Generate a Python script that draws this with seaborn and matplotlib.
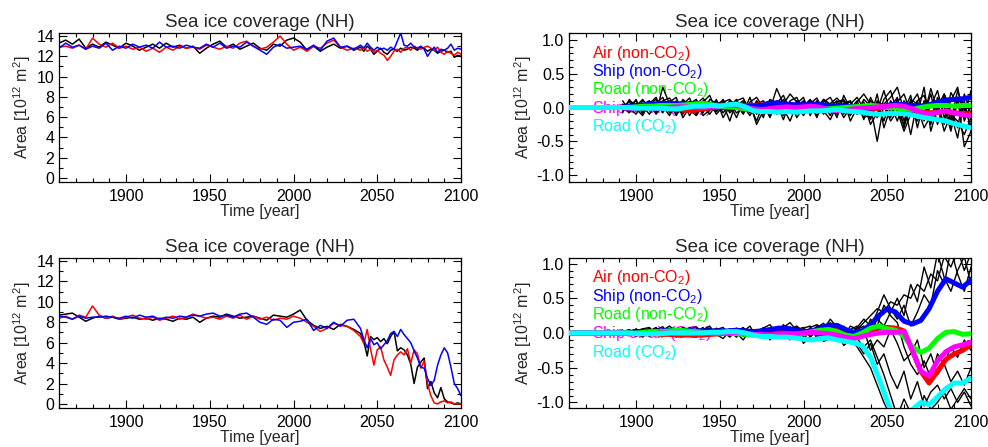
import numpy as np
import pandas as pd
import matplotlib
matplotlib.use("Agg")
import matplotlib.pyplot as plt
from matplotlib.ticker import MultipleLocator, FormatStrFormatter
import seaborn as sns

# ---------------- data ----------------
years_left = np.concatenate([np.arange(1860, 2040, 4), np.arange(2040, 2101, 2)])
years_mean = np.arange(1860, 2101, 5)
years_ens = np.arange(1892, 2101, 4)

# top-left: absolute area, three runs
tl_black = [13.3, 13.6, 13.2, 13.7, 12.8, 13.2, 12.9, 13.4, 13.1, 12.8, 13.3, 13.0, 12.6, 12.9, 13.2,
            12.8, 13.3, 12.9, 13.1, 12.8, 13.0, 12.3, 12.8, 13.2, 13.5, 12.9, 13.2, 12.7, 13.0, 13.3,
            12.8, 12.6, 13.2, 13.0, 13.6, 13.8, 13.4, 12.6, 13.0, 12.5, 12.9, 13.2, 12.8, 13.0, 12.6,
            12.9, 12.5, 13.0, 12.7, 12.2, 12.5, 12.8, 12.4, 12.2, 12.6, 12.7, 12.5, 12.8, 12.6, 12.7,
            12.9, 12.8, 12.6, 12.9, 12.8, 12.5, 12.7, 12.6, 12.3, 12.5, 12.6, 12.4, 12.5, 11.9, 12.1, 12.0]
tl_red = [12.9, 13.0, 12.8, 13.1, 12.7, 13.8, 13.2, 12.9, 13.3, 12.8, 13.0, 12.7, 12.9, 12.5, 12.8,
          12.4, 12.9, 12.6, 13.0, 12.8, 12.9, 12.7, 13.1, 12.9, 12.7, 13.0, 12.8, 13.3, 13.5, 13.0,
          12.7, 12.9, 13.4, 14.0, 13.2, 12.6, 12.9, 12.5, 13.0, 12.8, 13.3, 13.6, 12.9, 12.6, 12.8,
          12.6, 12.9, 12.5, 12.7, 12.4, 12.6, 12.3, 12.1, 11.6, 12.0, 12.5, 12.7, 12.4, 12.8, 12.9,
          12.6, 13.0, 12.8, 12.7, 12.9, 13.0, 12.8, 12.6, 12.9, 12.4, 12.2, 12.5, 12.3, 12.1, 12.4, 12.2]
tl_blue = [12.8, 13.3, 12.9, 13.1, 12.7, 13.0, 12.8, 13.3, 12.6, 13.0, 12.8, 13.2, 12.9, 13.1, 12.8,
           13.4, 12.9, 13.0, 12.8, 13.1, 12.9, 12.8, 13.2, 12.9, 13.3, 12.8, 13.0, 12.9, 13.4, 13.0,
           12.6, 12.2, 12.9, 13.2, 12.8, 12.9, 13.0, 12.7, 13.1, 12.6, 13.5, 13.8, 12.9, 13.0, 12.7,
           13.1, 12.8, 13.3, 12.9, 12.6, 12.9, 12.7, 12.8, 12.6, 12.9, 12.7, 13.5, 14.3, 13.1, 13.0,
           13.3, 12.9, 12.8, 13.0, 12.7, 12.0, 12.5, 12.9, 12.4, 12.7, 12.6, 12.8, 13.2, 12.6, 12.8, 12.7]

# bottom-left: absolute area, three runs
bl_black = [8.7, 8.8, 8.9, 8.5, 8.1, 8.4, 8.6, 8.4, 8.5, 8.3, 8.4, 8.5, 8.3, 8.4, 8.2,
            8.4, 8.3, 8.1, 8.4, 8.3, 8.5, 8.0, 8.4, 8.6, 8.5, 8.8, 8.6, 8.4, 8.5, 8.6,
            8.4, 8.2, 8.7, 8.6, 8.5, 8.8, 9.2, 8.2, 7.7, 7.4, 7.6, 7.3, 7.8, 7.6, 7.3,
            6.9, 6.1, 4.7, 6.6, 6.3, 6.5, 6.1, 6.4, 5.9, 6.6, 7.1, 5.2, 5.5, 5.3, 4.8,
            3.9, 2.0, 3.6, 4.1, 4.5, 1.5, 2.2, 1.1, 0.6, 1.6, 0.5, 0.2, 0.1, 0.0, 0.1, 0.0]
bl_red = [8.4, 8.6, 8.3, 8.7, 8.5, 9.6, 8.7, 8.4, 8.6, 8.3, 8.5, 8.7, 8.4, 8.3, 8.5,
          8.2, 8.4, 8.6, 8.3, 8.5, 8.8, 8.6, 8.4, 8.5, 8.3, 8.6, 8.4, 8.7, 8.3, 8.6,
          8.3, 8.5, 8.2, 8.4, 8.3, 8.6, 8.4, 8.0, 7.6, 7.1, 7.4, 7.9, 7.7, 7.6, 7.2,
          6.6, 5.9, 7.3, 5.4, 3.8, 5.3, 5.6, 4.3, 3.6, 2.8, 4.3, 4.8, 5.1, 4.8, 5.4,
          4.0, 5.3, 4.9, 3.5, 4.2, 2.0, 0.8, 0.1, 0.0, 0.2, 0.3, 0.1, 0.2, 0.0, 0.0, 0.0]
bl_blue = [8.6, 8.5, 8.3, 8.6, 8.4, 8.5, 8.5, 8.6, 8.5, 8.4, 8.6, 8.4, 8.7, 8.5, 8.6,
           8.3, 8.5, 8.4, 8.6, 8.5, 8.7, 8.6, 8.8, 8.9, 8.6, 8.7, 8.5, 8.8, 8.9, 8.5,
           8.0, 7.8, 8.3, 8.2, 7.5, 8.0, 8.1, 8.3, 7.2, 7.7, 7.4, 8.0, 7.6, 8.2, 8.3,
           7.4, 6.3, 5.5, 6.4, 5.8, 6.0, 5.4, 5.8, 6.2, 6.9, 7.1, 6.6, 7.3, 6.8, 6.4,
           6.0, 5.2, 4.5, 3.6, 3.5, 2.5, 1.8, 2.3, 3.8, 4.8, 5.5, 5.0, 3.6, 2.0, 1.5, 0.8]

# top-right: anomalies, ensemble members (black)
tr_members = [
    [0.02, 0.08, -0.05, 0.10, 0.03, -0.08, 0.30, 0.05, -0.10, 0.12, 0.02, -0.06, 0.10, 0.04, -0.02, 0.12,
     -0.05, 0.08, 0.02, -0.12, 0.05, 0.10, -0.03, 0.28, 0.05, -0.08, 0.10, 0.02, 0.12, -0.05, 0.08, 0.15,
     -0.03, 0.06, 0.10, -0.08, 0.12, 0.02, -0.50, 0.05, 0.15, 0.30, -0.05, 0.18, -0.30, 0.10, 0.02, 0.25,
     -0.15, 0.10, 0.30, -0.20, 0.05],
    [-0.05, 0.03, 0.10, -0.08, 0.05, 0.12, -0.04, 0.08, 0.15, -0.10, 0.06, 0.12, -0.05, 0.02, 0.10, -0.08,
     0.05, -0.15, 0.08, 0.03, -0.20, 0.06, 0.10, -0.05, 0.12, 0.02, -0.10, 0.08, -0.04, 0.10, 0.03, -0.12,
     0.08, 0.12, -0.06, 0.04, -0.15, -0.10, 0.08, -0.20, 0.10, -0.05, -0.25, 0.12, 0.05, -0.10, 0.20, -0.25,
     0.08, -0.30, 0.15, -0.58, -0.35],
    [0.05, -0.06, 0.02, 0.12, -0.03, 0.06, 0.15, -0.08, 0.04, 0.08, -0.12, 0.05, 0.14, 0.00, -0.06, 0.08,
     0.12, -0.03, 0.05, -0.08, 0.10, -0.02, -0.12, 0.06, 0.18, -0.04, 0.03, -0.12, 0.06, 0.14, -0.07, 0.02,
     0.10, -0.10, 0.05, 0.15, -0.02, -0.18, 0.10, 0.02, -0.15, 0.08, 0.20, -0.08, 0.10, -0.20, 0.05, -0.10,
     0.20, -0.05, -0.30, 0.20, -0.10],
    [-0.02, 0.10, 0.04, -0.05, 0.08, -0.02, 0.10, 0.14, 0.00, -0.06, 0.09, 0.03, -0.08, 0.12, 0.06, -0.03,
     0.10, 0.05, -0.10, 0.08, 0.15, 0.00, 0.07, -0.08, 0.05, 0.20, 0.08, -0.03, 0.10, 0.05, -0.10, 0.06,
     0.14, 0.02, -0.12, 0.08, 0.20, 0.05, -0.15, 0.12, 0.25, -0.08, 0.05, -0.40, 0.10, 0.18, -0.15, 0.05,
     -0.25, 0.22, 0.05, -0.15, 0.25],
    [0.00, -0.08, 0.06, 0.02, -0.10, 0.04, 0.08, -0.06, 0.02, 0.10, -0.04, -0.12, 0.03, 0.08, -0.10, 0.02,
     0.06, -0.08, 0.00, 0.06, -0.25, -0.05, 0.04, -0.10, 0.02, 0.08, -0.15, 0.00, 0.05, -0.12, 0.02, -0.06,
     0.05, -0.15, 0.00, -0.10, 0.05, -0.25, -0.08, 0.03, -0.20, -0.05, -0.35, -0.10, 0.00, -0.30, -0.12, 0.05,
     -0.35, -0.10, -0.20, -0.40, -0.15],
    [0.03, 0.00, -0.10, 0.05, 0.10, -0.05, 0.02, -0.12, 0.06, 0.00, 0.08, -0.04, 0.02, -0.10, 0.05, 0.10,
     -0.08, 0.03, 0.10, -0.04, 0.02, -0.10, 0.08, 0.03, -0.12, 0.05, 0.02, 0.10, -0.08, 0.00, 0.12, -0.02,
     -0.10, 0.05, 0.08, -0.05, -0.08, 0.10, 0.00, -0.12, 0.05, -0.20, 0.10, -0.05, -0.20, 0.08, -0.25, 0.15,
     0.00, -0.35, 0.10, 0.05, -0.28],
    [0.10, -0.05, 0.12, -0.10, 0.06, 0.15, -0.08, 0.10, -0.12, 0.05, 0.14, -0.10, 0.08, 0.18, -0.06, 0.05,
     -0.20, 0.10, 0.14, -0.05, 0.08, -0.15, 0.12, 0.06, -0.18, 0.10, 0.15, -0.08, 0.06, -0.15, 0.12, 0.05,
     -0.15, 0.18, -0.02, 0.10, -0.18, 0.15, -0.05, 0.25, -0.10, 0.12, -0.30, 0.05, 0.20, -0.12, 0.28, -0.05,
     0.15, -0.20, 0.25, -0.05, 0.20],
    [-0.08, 0.12, -0.02, -0.12, 0.08, -0.10, 0.05, -0.06, 0.10, -0.15, 0.00, 0.10, -0.12, -0.04, 0.12, -0.15,
     0.02, 0.12, -0.08, 0.15, -0.10, 0.05, -0.15, 0.10, -0.02, -0.20, 0.06, 0.15, -0.12, 0.08, -0.05, -0.18,
     0.04, 0.10, -0.20, 0.00, 0.08, -0.15, 0.20, -0.30, 0.00, 0.15, -0.20, 0.10, -0.10, 0.30, -0.35, 0.00,
     0.20, -0.10, -0.45, 0.10, -0.35],
]

# top-right: smoothed means (1860..2100, 5-yr)
tr_air = [0, 0, 0, 0, 0, 0, 0.0, 0.0, 0.01, 0.0, 0.0, -0.01, -0.02, -0.03, -0.04, -0.04, -0.02, 0.0, 0.01,
          0.0, 0.02, 0.03, 0.03, 0.04, 0.05, 0.06, 0.04, 0.02, 0.01, 0.0, 0.0, -0.02, -0.04, -0.05, -0.04,
          -0.03, -0.02, -0.01, 0.01, 0.02, 0.0, -0.03, -0.06, -0.08, -0.07, -0.06, -0.08, -0.09, -0.10]
tr_ship = [0, 0, 0, 0, 0, 0, 0.0, 0.01, 0.02, 0.04, 0.05, 0.06, 0.06, 0.05, 0.05, 0.06, 0.05, 0.04, 0.03,
           0.03, 0.04, 0.02, 0.02, 0.03, 0.06, 0.07, 0.05, 0.04, 0.04, 0.05, 0.04, 0.03, 0.02, 0.02, 0.01,
           0.0, -0.01, 0.01, 0.03, 0.05, 0.04, 0.03, 0.02, 0.04, 0.08, 0.11, 0.12, 0.13, 0.15]
tr_road = [0, 0, 0, 0, 0, 0, 0.0, 0.0, 0.01, 0.02, 0.02, 0.03, 0.03, 0.03, 0.04, 0.05, 0.06, 0.04, 0.02,
           0.01, 0.0, -0.02, -0.03, -0.04, -0.05, -0.05, -0.06, -0.06, -0.05, -0.04, -0.03, -0.02, -0.01,
           0.0, 0.01, 0.02, 0.03, 0.02, 0.0, -0.01, -0.02, -0.03, 0.0, 0.02, 0.03, 0.03, 0.02, 0.03, 0.03]
tr_shipair_co2 = [0, 0, 0, 0, 0, 0, 0.0, -0.01, -0.01, 0.0, -0.01, -0.01, 0.0, 0.01, 0.01, 0.0, 0.0, 0.01,
                  0.02, 0.03, 0.03, 0.01, -0.02, -0.03, -0.02, 0.0, 0.01, 0.0, 0.01, 0.02, 0.0, -0.03, -0.05,
                  -0.04, -0.02, -0.01, 0.0, 0.01, 0.02, 0.03, 0.02, -0.02, -0.07, -0.10, -0.07, -0.05, -0.08,
                  -0.11, -0.12]
tr_road_co2 = [0, 0, 0, 0, 0, 0, 0.0, 0.0, -0.01, -0.01, -0.01, -0.01, -0.02, -0.02, 0.0, 0.02, 0.02, 0.03,
               0.02, 0.04, 0.05, 0.01, -0.05, -0.06, -0.06, -0.07, -0.06, -0.07, -0.06, -0.05, -0.05, -0.04,
               -0.03, -0.05, -0.06, -0.07, -0.09, -0.10, -0.09, -0.09, -0.09, -0.11, -0.14, -0.16, -0.18,
               -0.20, -0.24, -0.27, -0.30]

# bottom-right: anomalies, ensemble members (black)
br_members = [
    [0.02, 0.05, -0.03, 0.06, 0.08, -0.02, 0.04, 0.10, 0.02, -0.05, 0.06, 0.09, 0.00, -0.04, 0.05, 0.08,
     -0.03, 0.02, 0.06, -0.05, 0.03, 0.07, 0.12, -0.02, 0.08, 0.15, 0.03, -0.06, 0.08, 0.12, 0.05, 0.20,
     0.08, -0.04, 0.10, 0.05, 0.15, 0.25, 0.35, 0.30, 0.45, 0.40, 0.55, 0.50, 0.70, 0.60, 0.85, 0.75,
     1.10, 0.95, 1.20, 0.90, 1.15],
    [-0.03, 0.04, 0.00, -0.06, 0.03, 0.08, -0.04, 0.02, 0.06, -0.03, 0.01, -0.06, 0.04, 0.07, -0.02, -0.08,
     0.03, 0.00, -0.10, 0.04, -0.05, 0.02, -0.08, 0.06, 0.00, -0.10, 0.05, -0.15, -0.05, 0.04, -0.12, -0.08,
     0.02, -0.18, -0.10, -0.20, -0.35, -0.50, -0.75, -1.00, -1.20, -1.10, -1.30, -1.20, -1.40, -1.30, -1.20,
     -1.40, -1.10, -1.30, -1.20, -1.10, -1.25],
    [0.04, -0.02, 0.06, 0.01, -0.04, 0.05, 0.09, -0.02, 0.03, 0.07, -0.05, 0.02, 0.08, -0.03, 0.04, 0.00,
     0.06, -0.04, 0.02, 0.10, -0.06, 0.03, 0.05, -0.04, 0.12, 0.02, -0.05, 0.07, 0.10, -0.08, 0.04, 0.15,
     -0.02, 0.08, 0.05, 0.10, -0.05, 0.20, 0.10, 0.40, 0.25, 0.15, -0.20, -0.45, -0.60, -0.40, -0.65, -0.30,
     -0.45, -0.20, -0.35, -0.10, -0.25],
    [-0.01, 0.03, -0.05, 0.02, 0.07, -0.03, 0.00, 0.05, -0.06, 0.02, 0.08, -0.01, -0.05, 0.04, 0.06, -0.02,
     0.01, 0.07, -0.05, 0.00, 0.04, -0.08, 0.06, 0.02, -0.06, 0.09, 0.00, -0.10, 0.05, 0.02, -0.06, 0.10,
     -0.12, 0.04, -0.08, -0.15, -0.30, -0.15, -0.45, -0.30, -0.60, -0.80, -0.55, -0.95, -0.70, -1.05, -0.85,
     -0.75, -0.95, -0.80, -1.00, -0.85, -1.05],
    [0.03, 0.00, 0.05, -0.03, 0.02, 0.06, -0.02, 0.04, -0.05, 0.08, 0.03, -0.02, 0.05, 0.10, -0.03, 0.04,
     0.02, -0.06, 0.06, 0.03, -0.02, 0.08, 0.00, 0.04, -0.05, 0.06, 0.10, 0.02, -0.04, 0.08, 0.14, 0.00,
     0.12, 0.05, -0.02, 0.08, 0.20, 0.10, 0.30, 0.55, 0.35, 0.20, 0.40, 0.10, 0.30, 0.55, 0.40, 0.90,
     0.70, 1.20, 0.85, 0.60, 0.95],
    [0.00, -0.04, 0.03, 0.06, -0.02, 0.01, 0.05, -0.05, 0.02, 0.04, -0.03, 0.06, 0.01, -0.04, 0.07, 0.02,
     -0.06, 0.03, 0.05, -0.04, 0.02, 0.06, -0.10, 0.03, 0.07, -0.04, -0.08, 0.05, 0.00, 0.10, -0.05, 0.03,
     0.06, -0.06, 0.02, -0.05, 0.05, -0.25, -0.10, -0.20, 0.05, -0.15, -0.40, -0.30, -0.10, -0.50, -0.30,
     -0.60, -0.45, -0.70, -0.55, -0.75, -0.50],
    [-0.02, 0.02, 0.05, -0.04, 0.03, 0.00, 0.06, 0.02, -0.03, 0.05, 0.01, -0.04, 0.06, 0.03, -0.01, 0.05,
     -0.04, 0.02, 0.08, -0.03, 0.04, 0.00, 0.06, -0.05, 0.03, 0.02, 0.08, -0.03, 0.06, -0.05, 0.10, 0.04,
     -0.08, 0.10, 0.00, 0.05, 0.10, 0.00, 0.20, 0.10, 0.30, 0.50, 0.25, 0.70, 0.45, 0.95, 0.65, 1.15,
     0.80, 0.60, 0.90, 1.10, 0.70],
    [0.01, -0.03, 0.02, 0.04, -0.05, 0.03, 0.01, -0.02, 0.05, 0.00, 0.03, 0.05, -0.04, 0.02, 0.04, -0.03,
     0.06, 0.00, -0.04, 0.05, 0.02, -0.03, 0.04, 0.07, -0.02, 0.00, 0.05, 0.08, -0.06, 0.03, 0.00, 0.08,
     -0.04, 0.02, -0.10, -0.08, -0.20, -0.10, -0.35, -0.60, -0.90, -1.20, -0.95, -1.15, -1.25, -0.90, -1.10,
     -1.00, -0.85, -1.10, -0.95, -0.80, -0.95],
]

# bottom-right: smoothed means (1860..2100, 5-yr)
br_air = [0, 0, 0, 0, 0, 0, 0.0, 0.0, -0.01, -0.01, -0.01, -0.02, -0.02, -0.03, -0.03, -0.03, -0.03, -0.02,
          -0.01, 0.0, 0.0, 0.01, 0.01, 0.02, 0.02, 0.01, 0.0, 0.0, -0.01, 0.02, 0.05, 0.08, 0.05, -0.02,
          -0.05, -0.01, 0.04, 0.07, 0.08, 0.07, 0.03, -0.25, -0.55, -0.72, -0.55, -0.38, -0.30, -0.25, -0.17]
br_ship = [0, 0, 0, 0, 0, 0, 0.0, 0.0, 0.01, 0.01, 0.02, 0.03, 0.04, 0.04, 0.04, 0.03, 0.03, 0.03, 0.03,
           0.03, 0.04, 0.03, 0.02, 0.03, 0.05, 0.07, 0.07, 0.04, 0.02, 0.03, 0.07, 0.11, 0.11, 0.05, 0.01,
           0.03, 0.12, 0.25, 0.35, 0.30, 0.17, 0.13, 0.18, 0.35, 0.60, 0.78, 0.72, 0.66, 0.76]
br_road = [0, 0, 0, 0, 0, 0, 0.0, 0.0, 0.0, 0.01, 0.02, 0.02, 0.03, 0.04, 0.03, 0.02, 0.01, 0.0, 0.0, 0.0,
           -0.01, -0.02, -0.03, -0.04, -0.04, -0.03, -0.02, -0.02, -0.01, 0.02, 0.04, 0.05, 0.02, -0.03,
           -0.05, 0.0, 0.07, 0.10, 0.06, 0.04, -0.05, -0.20, -0.28, -0.22, -0.08, 0.01, 0.02, -0.02, -0.01]
br_shipair_co2 = [0, 0, 0, 0, 0, 0, 0.0, -0.01, -0.01, -0.01, -0.01, 0.0, 0.0, 0.0, -0.01, 0.0, 0.0, 0.01,
                  0.01, 0.0, 0.01, 0.0, -0.02, -0.02, -0.03, -0.02, -0.01, -0.01, 0.0, 0.01, 0.0, -0.01,
                  -0.03, -0.06, -0.08, -0.05, -0.02, 0.0, 0.01, 0.01, 0.02, -0.25, -0.55, -0.62, -0.40,
                  -0.27, -0.20, -0.17, -0.13]
br_road_co2 = [0, 0, 0, 0, 0, 0, 0.0, 0.0, -0.01, -0.01, -0.01, -0.01, 0.0, 0.0, 0.0, 0.0, 0.0, 0.01, 0.01,
               0.02, 0.02, 0.0, -0.03, -0.05, -0.05, -0.06, -0.06, -0.07, -0.09, -0.10, -0.08, -0.07, -0.10,
               -0.12, -0.14, -0.18, -0.35, -0.65, -0.98, -1.30, -1.30, -1.10, -1.00, -1.03, -0.92, -0.80,
               -0.72, -0.72, -0.65]

legend_labels = ["Air (non-CO$_2$)", "Ship (non-CO$_2$)", "Road (non-CO$_2$)",
                 "Ship or air (CO$_2$)", "Road (CO$_2$)"]
legend_colors = ["#ff0000", "#0000ff", "#00ff00", "#ff00ff", "#00ffff"]

title_text = "Sea ice coverage (NH)"
xlabel_text = "Time [year]"
ylabel_text = "Area [10$^{12}$ m$^{2}$]"

# ---------------- style ----------------
sns.set_style("ticks")
plt.rcParams['font.family'] = ['Liberation Sans', 'DejaVu Sans']
plt.rcParams['mathtext.fontset'] = 'custom'
plt.rcParams['mathtext.rm'] = 'Liberation Sans'
plt.rcParams['mathtext.it'] = 'Liberation Sans:italic'
plt.rcParams['mathtext.bf'] = 'Liberation Sans:bold'
plt.rcParams['axes.unicode_minus'] = False

fig = plt.figure(figsize=(9.88, 4.47), dpi=100)
W, H = 988.0, 447.0


def make_ax(left, top, right, bottom):
    return fig.add_axes([left / W, 1 - bottom / H, (right - left) / W, (bottom - top) / H])


ax_tl = make_ax(59, 33, 461, 182)
ax_tr = make_ax(569, 33, 971, 182)
ax_bl = make_ax(59, 258, 461, 408)
ax_br = make_ax(569, 258, 971, 408)


def style(ax, ylim, ymaj, ymin, fmt):
    ax.set_xlim(1860, 2100)
    ax.set_ylim(*ylim)
    ax.set_xticks([1900, 1950, 2000, 2050, 2100])
    ax.xaxis.set_minor_locator(MultipleLocator(10))
    ax.yaxis.set_major_locator(MultipleLocator(ymaj))
    ax.yaxis.set_minor_locator(MultipleLocator(ymin))
    ax.yaxis.set_major_formatter(FormatStrFormatter(fmt))
    ax.tick_params(which='both', direction='in', top=True, right=True, colors='black',
                   labelsize=11.5, width=0.8)
    ax.tick_params(which='major', length=6)
    ax.tick_params(which='minor', length=3)
    ax.tick_params(axis='x', pad=5)
    for s in ax.spines.values():
        s.set_visible(True)
        s.set_color('black')
        s.set_linewidth(0.9)
    ax.set_title(title_text, fontsize=13.5, pad=4)
    ax.set_xlabel(xlabel_text, fontsize=11.5, labelpad=0)
    ax.set_ylabel(ylabel_text, fontsize=11.5, labelpad=2)


def draw_abs(ax, blk, red, blu):
    for vals, col in [(blk, 'black'), (red, '#ff0000'), (blu, '#0000ff')]:
        df = pd.DataFrame({'year': years_left, 'area': vals})
        sns.lineplot(data=df, x='year', y='area', ax=ax, color=col, linewidth=1.1,
                     estimator=None, legend=False)


def draw_anom(ax, members, means):
    for i, (lab, col) in enumerate(zip(legend_labels, legend_colors)):
        ax.text(1874, 0.80 - i * 0.27, lab, color=col, fontsize=11.5, va='center', ha='left', zorder=1)
    for m in members:
        df = pd.DataFrame({'year': years_ens, 'area': m})
        sns.lineplot(data=df, x='year', y='area', ax=ax, color='black', linewidth=1.0,
                     estimator=None, legend=False, zorder=2)
    for vals, col in zip(means, legend_colors):
        df = pd.DataFrame({'year': years_mean, 'area': vals})
        sns.lineplot(data=df, x='year', y='area', ax=ax, color=col, linewidth=3.6,
                     estimator=None, legend=False, zorder=3)


draw_abs(ax_tl, tl_black, tl_red, tl_blue)
draw_abs(ax_bl, bl_black, bl_red, bl_blue)
draw_anom(ax_tr, tr_members, [tr_air, tr_ship, tr_road, tr_shipair_co2, tr_road_co2])
draw_anom(ax_br, br_members, [br_air, br_ship, br_road, br_shipair_co2, br_road_co2])

style(ax_tl, (-0.4, 14.3), 2, 1, '%d')
style(ax_bl, (-0.4, 14.3), 2, 1, '%d')
style(ax_tr, (-1.1, 1.1), 0.5, 0.1, '%.1f')
style(ax_br, (-1.08, 1.08), 0.5, 0.1, '%.1f')

fig.savefig("out.png", dpi=100, facecolor='white')
